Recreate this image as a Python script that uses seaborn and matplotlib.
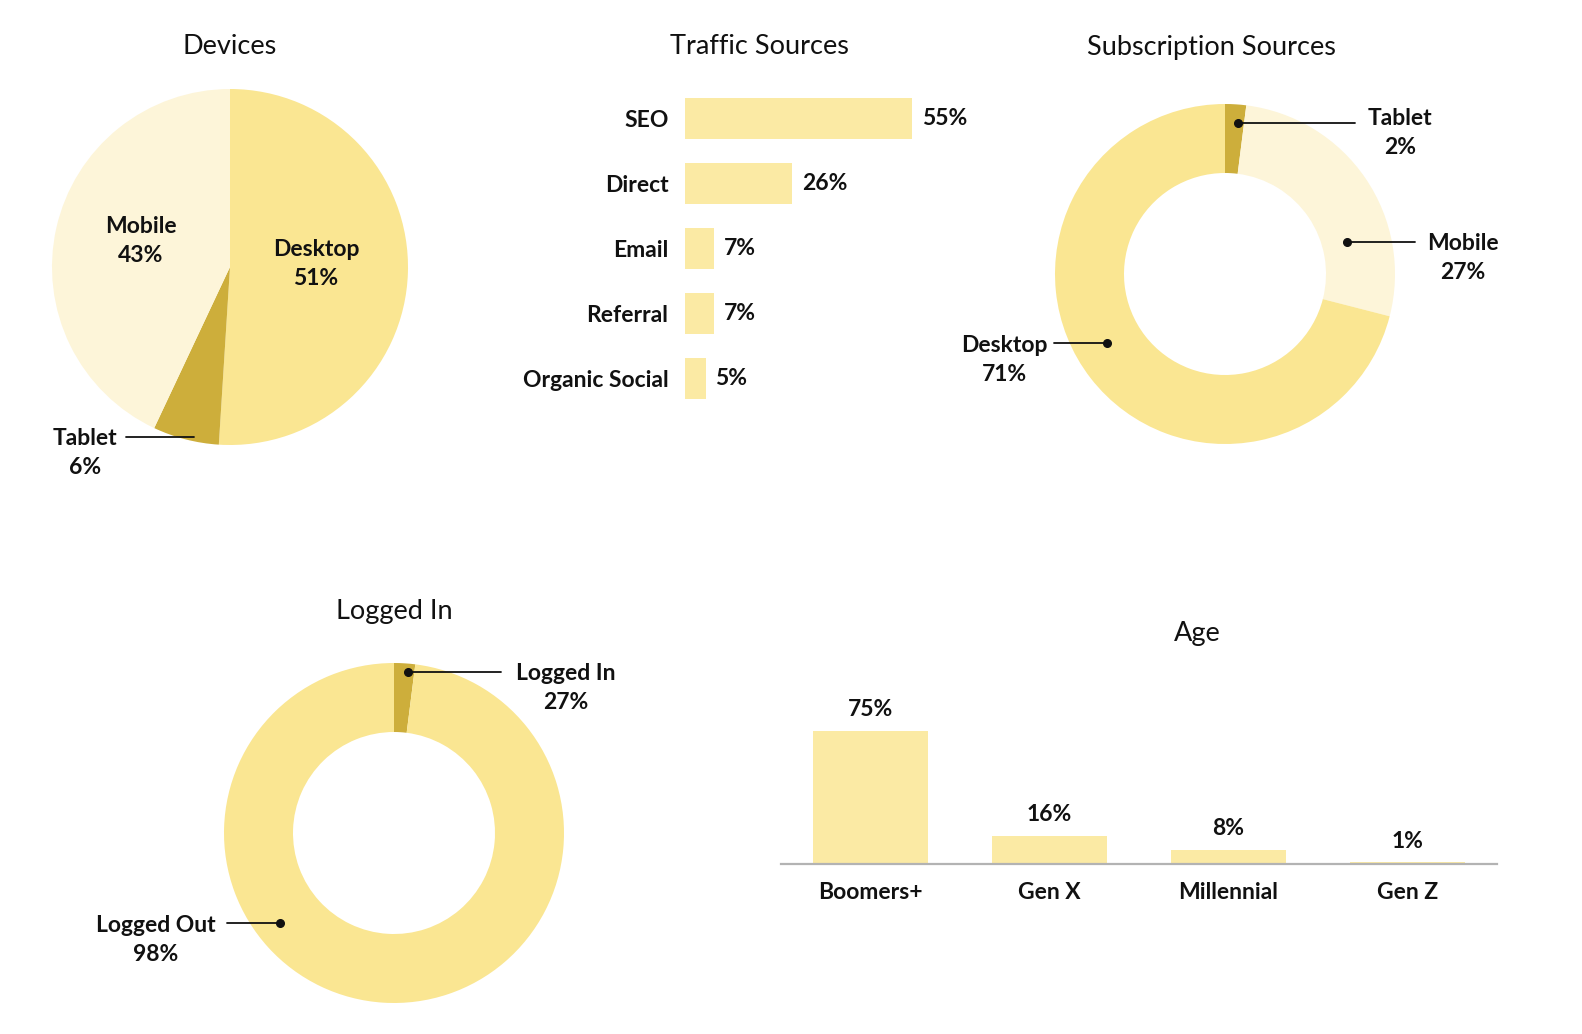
import matplotlib
matplotlib.use("Agg")
import matplotlib.pyplot as plt
import seaborn as sns
import pandas as pd

# --- data ---
device_labels = ["Desktop", "Tablet", "Mobile"]
device_values = [51, 6, 43]

traffic_sources = ["SEO", "Direct", "Email", "Referral", "Organic Social"]
traffic_values = [55, 26, 7, 7, 5]

sub_labels = ["Tablet", "Mobile", "Desktop"]
sub_values = [2, 27, 71]

login_labels = ["Logged In", "Logged Out"]
login_values = [2, 98]
login_text = ["27%", "98%"]  # as printed on the chart

age_groups = ["Boomers+", "Gen X", "Millennial", "Gen Z"]
age_values = [75, 16, 8, 1]

# --- style ---
sns.set_theme(style="white")
plt.rcParams["font.family"] = ["Lato", "DejaVu Sans"]

PIE_MAIN = "#FAE692"
PIE_PALE = "#FDF5D9"
PIE_DARK = "#CDAE3B"
BAR = "#FBEAA4"
INK = "#111111"
LABEL_SIZE = 16.5

W, H = 1582, 1034
fig = plt.figure(figsize=(W / 100, H / 100), dpi=100)
fig.patch.set_facecolor("white")


def px_axes(x0, y0, w, h):
    return fig.add_axes([x0 / W, 1 - (y0 + h) / H, w / W, h / H])


def pie_axes(cx, cy, half=270):
    ax = px_axes(cx - half, cy - half, 2 * half, 2 * half)
    ax.set_axis_off()
    return ax, half


def title(x, y, s):
    fig.text(x / W, 1 - y / H, s, ha="center", va="center", fontsize=19.5, color=INK)


def label(ax, x, y, s):
    ax.text(x, y, s, ha="center", va="center", fontsize=LABEL_SIZE, fontweight="bold",
            color=INK, linespacing=1.5)


def leader(ax, p0, p1, dot=True):
    ax.plot([p0[0], p1[0]], [p0[1], p1[1]], color=INK, lw=1.3)
    if dot:
        ax.plot([p0[0]], [p0[1]], "o", color=INK, ms=5.5)


wedge = dict(linewidth=0, edgecolor="none")

# --- Devices pie ---
title(230, 46, "Devices")
ax, half = pie_axes(230, 267)
ax.pie(device_values, colors=[PIE_MAIN, PIE_DARK, PIE_PALE], startangle=90,
       counterclock=False, radius=178, wedgeprops=wedge)
ax.set_xlim(-half, half)
ax.set_ylim(-half, half)
label(ax, 86, 3, f"{device_labels[0]}\n{device_values[0]}%")
label(ax, -89, 26, f"{device_labels[2]}\n{device_values[2]}%")
label(ax, -145, -186, f"{device_labels[1]}\n{device_values[1]}%")
leader(ax, (-104, -170), (-36, -170), dot=False)

# --- Traffic Sources bars ---
title(759, 46, "Traffic Sources")
unit = 4.13
ax = px_axes(685, 86, 60 * unit, 5 * 65)
df_t = pd.DataFrame({"source": traffic_sources, "share": traffic_values})
sns.barplot(data=df_t, x="share", y="source", orient="h", color=BAR,
            saturation=1, width=0.62, linewidth=0, ax=ax)
ax.set_xlim(0, 60)
ax.set_ylim(4.5, -0.5)
ax.set_xlabel("")
ax.set_ylabel("")
ax.set_xticks([])
sns.despine(ax=ax, left=True, bottom=True)
ax.tick_params(axis="y", length=0, pad=12)
for t in ax.get_yticklabels():
    t.set_fontweight("bold")
    t.set_fontsize(LABEL_SIZE)
    t.set_color(INK)
for i, v in enumerate(traffic_values):
    ax.annotate(f"{v}%", (v, i), xytext=(7, 0), textcoords="offset points",
                ha="left", va="center", fontsize=LABEL_SIZE, fontweight="bold", color=INK)
ax.patch.set_alpha(0)

# --- Subscription Sources donut ---
title(1211, 47, "Subscription Sources")
ax, half = pie_axes(1225, 274)
ax.pie(sub_values, colors=[PIE_DARK, PIE_PALE, PIE_MAIN], startangle=90,
       counterclock=False, radius=170, wedgeprops=dict(width=69, **wedge))
ax.set_xlim(-half, half)
ax.set_ylim(-half, half)
leader(ax, (13, 151), (130, 151))
label(ax, 175, 141, f"{sub_labels[0]}\n{sub_values[0]}%")
leader(ax, (122, 32), (190, 32))
label(ax, 238, 16, f"{sub_labels[1]}\n{sub_values[1]}%")
leader(ax, (-118, -69), (-171, -69))
label(ax, -221, -86, f"{sub_labels[2]}\n{sub_values[2]}%")

# --- Logged In donut ---
title(394, 612, "Logged In")
ax, half = pie_axes(394, 833)
ax.pie(login_values, colors=[PIE_DARK, PIE_MAIN], startangle=90,
       counterclock=False, radius=170, wedgeprops=dict(width=69, **wedge))
ax.set_xlim(-half, half)
ax.set_ylim(-half, half)
leader(ax, (14, 161), (107, 161))
label(ax, 172, 145, f"{login_labels[0]}\n{login_text[0]}")
leader(ax, (-114, -90), (-167, -90))
label(ax, -238, -107, f"{login_labels[1]}\n{login_text[1]}")

# --- Age bars ---
title(1197, 634, "Age")
ppu = 1.776
ax = px_axes(781, 864 - 80 * ppu, 4 * 179, 80 * ppu)
df_a = pd.DataFrame({"group": age_groups, "share": age_values})
sns.barplot(data=df_a, x="group", y="share", color=BAR, saturation=1,
            width=0.64, linewidth=0, ax=ax)
ax.set_xlim(-0.5, 3.5)
ax.set_ylim(0, 80)
ax.set_xlabel("")
ax.set_ylabel("")
ax.set_yticks([])
sns.despine(ax=ax, left=True)
ax.spines["bottom"].set_color("#B3B3B3")
ax.spines["bottom"].set_linewidth(1.6)
ax.tick_params(axis="x", length=0, pad=13)
for t in ax.get_xticklabels():
    t.set_fontweight("bold")
    t.set_fontsize(LABEL_SIZE)
    t.set_color(INK)
for i, v in enumerate(age_values):
    ax.annotate(f"{v}%", (i, v), xytext=(0, 15), textcoords="offset points",
                ha="center", va="center", fontsize=LABEL_SIZE, fontweight="bold", color=INK)
ax.patch.set_alpha(0)

fig.savefig("out.png", dpi=100, facecolor="white")
